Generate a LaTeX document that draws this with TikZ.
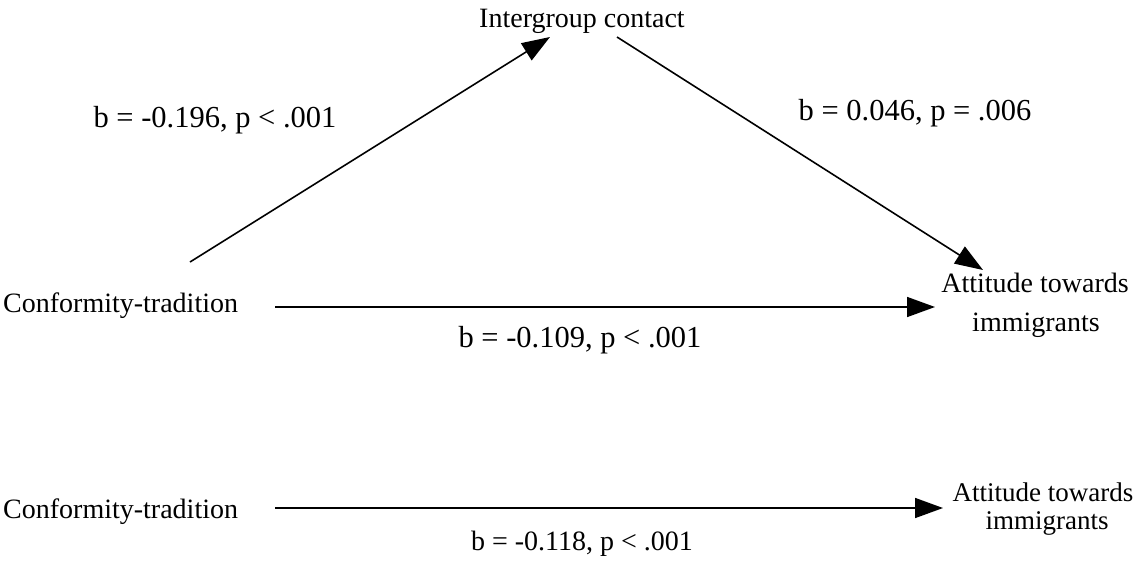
\documentclass[tikz,border=0pt]{standalone}
\usepackage{fontspec}
\setmainfont{Liberation Serif}
\usetikzlibrary{arrows.meta}
\tikzset{
  vartext/.style={inner sep=0pt, font=\fontsize{28}{34}\selectfont},
  smallvar/.style={inner sep=0pt, font=\fontsize{27}{30}\selectfont},
  coeflabel/.style={inner sep=0pt, font=\fontsize{30.5}{36}\selectfont},
  smallcoef/.style={inner sep=0pt, font=\fontsize{28}{34}\selectfont},
  connarrow/.style={line width=1.6pt, -{Triangle[length=28pt,width=20pt]}}
}
\begin{document}
\begin{tikzpicture}[x=1pt,y=-1pt]
\useasboundingbox (0,0) rectangle (1137,565);
% nodes
\node[vartext, anchor=base] (ic) at (582,27) {Intergroup contact};
\node[vartext, anchor=base west] (ct1) at (3,312) {Conformity-tradition};
\node[vartext, anchor=base] (at1a) at (1035,292) {Attitude towards};
\node[vartext, anchor=base] (at1b) at (1036,331) {immigrants};
\node[vartext, anchor=base west] (ct2) at (3,518) {Conformity-tradition};
\node[smallvar, anchor=base] (at2a) at (1043,501) {Attitude towards};
\node[smallvar, anchor=base] (at2b) at (1047,529) {immigrants};
% labels
\node[coeflabel, anchor=base] (la) at (215,127) {b = -0.196, p < .001};
\node[coeflabel, anchor=base] (lb) at (915,120) {b = 0.046, p = .006};
\node[coeflabel, anchor=base] (lc) at (580,347) {b = -0.109, p < .001};
\node[smallcoef, anchor=base] (ld) at (582,550) {b = -0.118, p < .001};
% arrow end points
\coordinate (a1s) at (190,262);
\coordinate (a1e) at (550,37);
\coordinate (a2s) at (617,37);
\coordinate (a2e) at (983,270);
\coordinate (a3s) at (275,307);
\coordinate (a3e) at (935,307);
\coordinate (a4s) at (275,508);
\coordinate (a4e) at (943,508);
\draw[connarrow] (a1s) -- (a1e);
\draw[connarrow] (a2s) -- (a2e);
\draw[connarrow] (a3s) -- (a3e);
\draw[connarrow] (a4s) -- (a4e);
\end{tikzpicture}
\end{document}
